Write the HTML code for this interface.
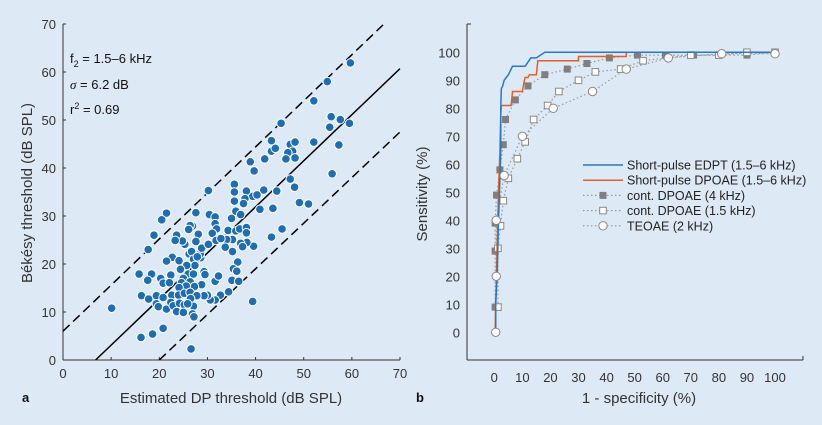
<!DOCTYPE html>
<html><head><meta charset="utf-8"><style>
body{margin:0;background:#dee9f6;}
svg{display:block;font-family:"Liberation Sans","DejaVu Sans",sans-serif;}
</style></head><body>
<svg id="chart" width="822" height="425" viewBox="0 0 822 425">
<rect width="822" height="425" fill="#dee9f6"/>
<g id="left"></g>
<g id="right"></g>
</svg>
<script>
// ---- Panel a data ----
const scatterX=[10.1,59.7,54.9,52.1,45.3,55.7,55.4,57.6,59.5,52.1,57.3,55.9,51.0,49.1,45.5,43.3,39.4,39.6,43.3,43.3,44.1,41.9,38.9,39.7,47.2,48.2,47.7,46.7,46.3,48.2,47.2,48.1,44.4,41.7,40.9,43.6,39.4,40.3,38.1,35.6,35.6,35.6,37.8,37.5,35.9,36.9,35.0,34.3,35.9,36.7,38.1,38.1,38.2,36.9,37.3,35.2,34.0,33.7,35.2,36.3,35.4,36.1,35.1,36.5,32.7,34.4,31.6,30.6,30.0,29.3,31.6,32.3,29.3,29.5,28.8,28.6,28.5,28.8,28.1,27.6,27.6,26.9,26.4,26.1,30.4,31.6,31.6,31.9,31.0,31.8,30.2,32.8,30.2,25.3,24.8,23.6,23.3,21.5,20.5,18.9,17.7,22.7,21.5,24.1,26.2,26.7,27.1,27.4,25.7,24.4,26.0,27.1,25.0,24.6,26.4,27.3,25.6,24.1,22.4,20.3,20.8,22.1,15.8,18.4,17.6,16.3,17.8,19.4,20.8,22.6,24.0,25.2,26.4,27.8,19.4,19.8,21.5,22.4,22.9,23.6,24.2,25.2,25.0,26.5,27.1,26.9,27.2,16.2,18.6,20.8,26.6,25.9,27.9];
const scatterY=[10.8,61.9,58.0,54.0,49.3,50.7,48.5,50.1,49.3,45.4,44.8,38.8,32.5,32.8,27.3,25.6,12.2,23.7,45.7,43.5,44.1,41.9,41.3,39.4,44.9,45.4,43.5,43.2,41.9,42.1,37.7,36.0,35.2,35.4,31.4,31.6,34.1,34.4,35.2,36.6,35.0,33.1,33.6,32.6,31.0,30.3,29.5,27.0,26.9,27.3,27.6,26.5,24.5,24.3,23.6,25.1,25.1,23.5,22.6,20.4,19.0,18.5,16.6,16.4,13.5,14.2,12.5,12.5,13.5,13.4,16.4,17.5,18.4,17.8,15.7,21.3,22.1,23.3,26.2,24.7,30.7,27.9,28.0,27.2,30.3,29.8,28.4,27.3,26.4,24.9,24.1,25.3,35.3,24.1,24.8,26.0,24.9,30.6,29.2,26.0,23.0,21.4,20.6,20.7,22.1,22.6,21.0,19.7,19.7,18.9,17.9,17.9,17.0,16.1,16.3,15.3,15.4,15.1,17.7,17.0,16.0,16.1,17.9,17.9,16.6,13.4,12.7,13.4,13.0,13.5,13.5,13.9,14.1,13.4,11.7,11.1,10.6,12.0,11.3,10.1,11.8,11.5,9.9,12.8,11.2,9.6,9.0,4.7,5.4,6.6,2.3,11.7,21.5];
const fitIntercepts=[-6.5,6,-19];
const fitSlope=[0.96,0.96,0.95];
const scatterTicks=[0,10,20,30,40,50,60,70];
// ---- Panel b data ----
const edptX=[0.5,0.5,1,1.5,2,2.3,2.3,2.5,3,3.5,5,6.5,9,11,13,15,18,100];
const edptY=[0,10,20,40,55,65,80,87,88,90,92,95,95,95,98,98,100,100];
const dpoaeX=[0.3,0.5,1,1.5,2,2.3,2.5,6,6.5,10,10.5,11,12,12.5,15,15.5,30,30,47,47,100];
const dpoaeY=[0,10,30,50,65,78,81,81,86,86,89,91,91,92,92,97,97,98.5,98.5,100,100];
const c4X=[0.3,0.3,0.3,0.8,2,3.2,4,7.5,12,18,26,33,41,51,61,71,90,100];
const c4Y=[9,29,39,49,58,67,76,83,88,92,94,96,98,99,99,99,99,100];
const c15X=[1.3,1.3,2.2,3.2,5,8.2,11,14,19,23,30,36,45,53,70,80,90,100];
const c15Y=[9,30,38,47,55,62,68,76,81,86,90,93,94,97,99,99,100,100];
const teX=[0.5,0.7,0.7,3.5,10,21,35,47,62,81,100];
const teY=[0,20,40,56,70,80,86,94,98,99.5,99.5];
const rocTicks=[0,10,20,30,40,50,60,70,80,90,100];

const NS="http://www.w3.org/2000/svg";
function mk(parent,tag,attrs,text){const e=document.createElementNS(NS,tag);for(const k in attrs)e.setAttribute(k,attrs[k]);if(text!==undefined)e.textContent=text;parent.appendChild(e);return e;}

// Panel a
const L=document.getElementById('left');
const ax=v=>63+v*(337/70), ay=v=>360-v*(336/70);
let e;
e=mk(L,'line',{x1:63,y1:24,x2:63,y2:360,stroke:'#333','stroke-width':1});


e=mk(L,'line',{x1:63,y1:360,x2:400,y2:360,stroke:'#333','stroke-width':1});


scatterTicks.forEach(t=>{
 mk(L,'line',{x1:ax(t),y1:360,x2:ax(t),y2:357,stroke:'#333'});
 mk(L,'line',{x1:63,y1:ay(t),x2:66,y2:ay(t),stroke:'#333'});
 e=mk(L,'text',{x:ax(t),y:378,'text-anchor':'middle','font-size':13,fill:'#333'},t);
 
 
 e=mk(L,'text',{x:56,y:ay(t)+5,'text-anchor':'end','font-size':13,fill:'#333'},t);
 
 
});
fitIntercepts.forEach((c,i)=>{
 const m=fitSlope[i];
 let x0=Math.max(0,-c/m), x1=Math.min(70,(70-c)/m);
 e=mk(L,'line',{x1:ax(x0),y1:ay(m*x0+c),x2:ax(x1),y2:ay(m*x1+c),stroke:'#000','stroke-width':1.5,'stroke-dasharray':i==0?'none':'9,5'});
 
 
});
scatterX.forEach((x,i)=>{
 e=mk(L,'circle',{cx:ax(x),cy:ay(scatterY[i]),r:4.3,fill:'#1f6db3',stroke:'#fff','stroke-width':1});
 
 
});
e=mk(L,'text',{x:70,y:63,'font-size':13,fill:'#111'});
e.innerHTML='f<tspan font-size="9" dy="4">2</tspan><tspan dy="-4"> = 1.5–6 kHz</tspan>';


e=mk(L,'text',{x:70,y:89,'font-size':13,fill:'#111'});
e.innerHTML='<tspan font-style="italic" font-family="Liberation Serif">σ</tspan> = 6.2 dB';


e=mk(L,'text',{x:70,y:114,'font-size':13,fill:'#111'});
e.innerHTML='r<tspan font-size="9" dy="-5">2</tspan><tspan dy="5"> = 0.69</tspan>';


e=mk(L,'text',{x:231,y:403,'text-anchor':'middle','font-size':15,fill:'#333'},'Estimated DP threshold (dB SPL)');


e=mk(L,'text',{x:0,y:0,'text-anchor':'middle','font-size':15,fill:'#333',transform:'translate(32,193) rotate(-90)'},'Békésy threshold (dB SPL)');


e=mk(L,'text',{x:22,y:402,'font-size':13,'font-weight':'bold',fill:'#111'},'a');



// Panel b
const R=document.getElementById('right');
const bx=v=>494.3+v*2.807, by=v=>332.3-v*2.8;
e=mk(R,'line',{x1:467,y1:24,x2:467,y2:360,stroke:'#333'});


e=mk(R,'line',{x1:467,y1:360,x2:803,y2:360,stroke:'#333'});


mk(R,'line',{x1:467,y1:24,x2:471,y2:24,stroke:'#333'});
mk(R,'line',{x1:803,y1:360,x2:803,y2:356,stroke:'#333'});
rocTicks.forEach(t=>{
 e=mk(R,'text',{x:bx(t),y:382,'text-anchor':'middle','font-size':13,fill:'#333'},t);
 
 
 e=mk(R,'text',{x:460,y:by(t)+5,'text-anchor':'end','font-size':13,fill:'#333'},t);
 
 
});
function pts(X,Y){return X.map((x,i)=>bx(x)+','+by(Y[i])).join(' ');}
e=mk(R,'polyline',{points:pts(teX,teY),fill:'none',stroke:'#999','stroke-width':1.2,'stroke-dasharray':'1.5,2.5'});


e=mk(R,'polyline',{points:pts(c15X,c15Y),fill:'none',stroke:'#999','stroke-width':1.2,'stroke-dasharray':'1.5,2.5'});


e=mk(R,'polyline',{points:pts(c4X,c4Y),fill:'none',stroke:'#999','stroke-width':1.2,'stroke-dasharray':'1.5,2.5'});


c4X.forEach((x,i)=>{
 e=mk(R,'rect',{x:bx(x)-3.5,y:by(c4Y[i])-3.5,width:7,height:7,fill:'#7f7f7f'});
 
 
});
c15X.forEach((x,i)=>{
 e=mk(R,'rect',{x:bx(x)-3.3,y:by(c15Y[i])-3.3,width:6.6,height:6.6,fill:'#fff',stroke:'#888','stroke-width':1});
 
 
});
e=mk(R,'polyline',{points:pts(dpoaeX,dpoaeY),fill:'none',stroke:'#e0602a','stroke-width':1.5});


e=mk(R,'polyline',{points:pts(edptX,edptY),fill:'none',stroke:'#2a78c0','stroke-width':1.5});


teX.forEach((x,i)=>{
 e=mk(R,'circle',{cx:bx(x),cy:by(teY[i]),r:4.2,fill:'#fff',stroke:'#888','stroke-width':1});
 
 
});
// legend
const leg=[['Short-pulse EDPT (1.5–6 kHz)','#2a78c0','line'],['Short-pulse DPOAE (1.5–6 kHz)','#e0602a','line'],['cont. DPOAE (4 kHz)','#999','fsq'],['cont. DPOAE (1.5 kHz)','#999','osq'],['TEOAE (2 kHz)','#999','circ']];
leg.forEach((l,i)=>{
 const y=165+i*15.2;
 const g=mk(R,'g',{});
 
 
 if(l[2]=='line') mk(g,'line',{x1:583,y1:y,x2:623,y2:y,stroke:l[1],'stroke-width':1.5});
 else{
  mk(g,'line',{x1:583,y1:y,x2:623,y2:y,stroke:'#999','stroke-width':1.2,'stroke-dasharray':'1.5,2.5'});
  if(l[2]=='fsq') mk(g,'rect',{x:599.5,y:y-3.5,width:7,height:7,fill:'#7f7f7f'});
  if(l[2]=='osq') mk(g,'rect',{x:599.7,y:y-3.3,width:6.6,height:6.6,fill:'#fff',stroke:'#888'});
  if(l[2]=='circ') mk(g,'circle',{cx:603,cy:y,r:4.2,fill:'#fff',stroke:'#888'});
 }
 mk(g,'text',{x:627,y:y+4.5,'font-size':12.5,fill:'#222'},l[0]);
});
e=mk(R,'text',{x:639,y:403,'text-anchor':'middle','font-size':15,fill:'#333'},'1 - specificity (%)');


e=mk(R,'text',{x:0,y:0,'text-anchor':'middle','font-size':15,fill:'#333',transform:'translate(427,194) rotate(-90)'},'Sensitivity (%)');


e=mk(R,'text',{x:416,y:402,'font-size':13,'font-weight':'bold',fill:'#111'},'b');


</script>
</body></html>
